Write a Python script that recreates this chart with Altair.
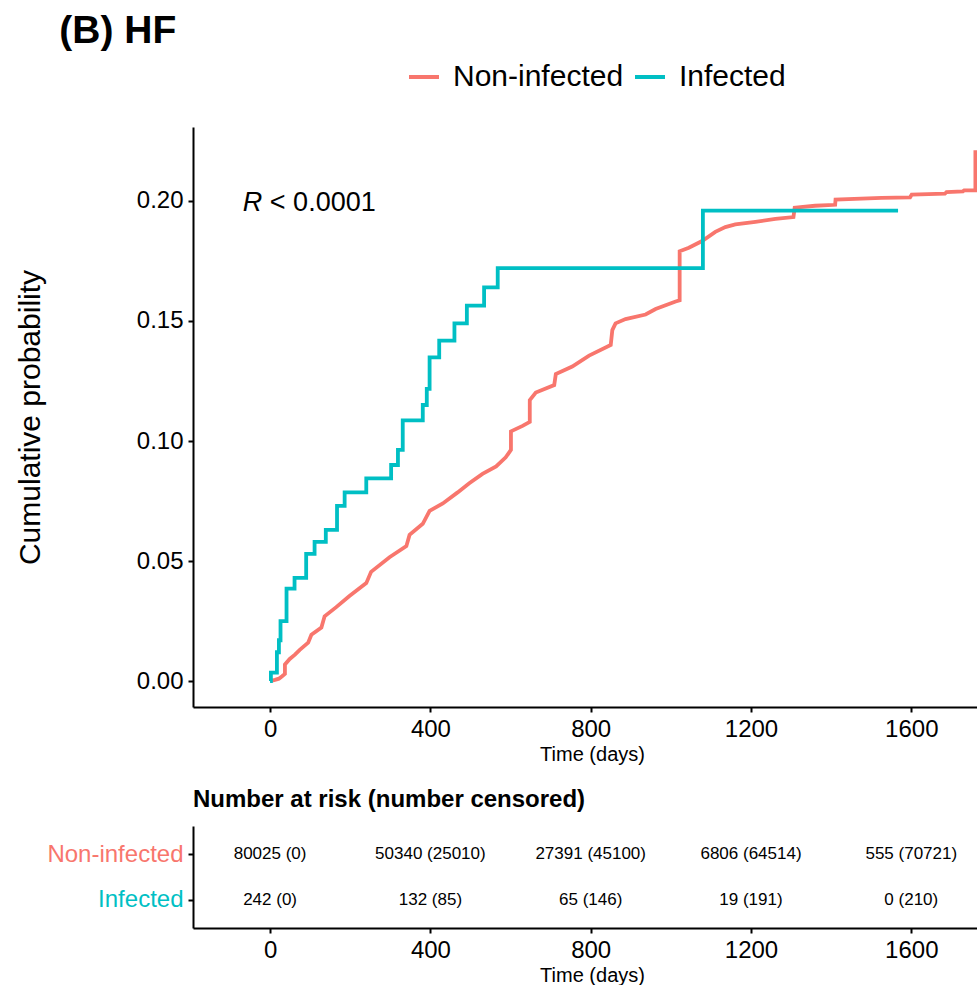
import altair as alt
import pandas as pd

# ---------------- data ----------------
groups = ["Non-infected", "Infected"]
palette = ["#F8766D", "#00BFC4"]

# Non-infected cumulative incidence (repeated day = vertical jump)
noninf_days = [0, 12, 22, 30, 37, 37, 49, 62, 74, 95, 103, 128, 136, 165, 198, 240, 252,
               298, 340, 348, 381, 398, 431, 468, 497, 530, 564, 588, 601, 601, 630, 648,
               648, 663, 709, 713, 754, 796, 850, 854, 862, 887, 937, 962, 1012, 1022,
               1022, 1045, 1078, 1111, 1136, 1161, 1211, 1261, 1306, 1309, 1360, 1410,
               1411, 1526, 1597, 1601, 1684, 1688, 1729, 1732, 1760, 1760, 1800]
noninf_prob = [0.0, 0.0005, 0.001, 0.002, 0.003, 0.0069, 0.0092, 0.011, 0.013, 0.016, 0.0193,
               0.0223, 0.027, 0.0308, 0.0354, 0.0408, 0.0455, 0.0516, 0.0562, 0.0609, 0.0655,
               0.0709, 0.074, 0.0786, 0.0824, 0.0863, 0.0894, 0.0932, 0.0963, 0.104, 0.1063,
               0.108, 0.117, 0.1202, 0.1233, 0.1279, 0.131, 0.1356, 0.140, 0.1462, 0.149,
               0.1508, 0.1527, 0.155, 0.1581, 0.1586, 0.179, 0.1805, 0.1833, 0.1871, 0.1891,
               0.1902, 0.1913, 0.1925, 0.1933, 0.1972, 0.198, 0.1984, 0.2006, 0.2013, 0.2015,
               0.2026, 0.203, 0.2037, 0.204, 0.2044, 0.2044, 0.2203, 0.2203]

# Infected cumulative incidence (step function)
inf_days = [0, 2, 17, 22, 26, 41, 61, 90, 111, 139, 167, 186, 240, 302, 319, 331, 381,
            391, 398, 422, 460, 491, 534, 568, 1080, 1567]
inf_prob = [0.0, 0.0035, 0.012, 0.017, 0.025, 0.0385, 0.043, 0.053, 0.058, 0.063, 0.073,
            0.0786, 0.0844, 0.090, 0.0963, 0.1086, 0.115, 0.1217, 0.1348, 0.1418, 0.149,
            0.1564, 0.164, 0.172, 0.196, 0.196]

risk_times = [0, 400, 800, 1200, 1600]
risk_noninf = ["80025 (0)", "50340 (25010)", "27391 (45100)", "6806 (64514)", "555 (70721)"]
risk_inf = ["242 (0)", "132 (85)", "65 (146)", "19 (191)", "0 (210)"]

y_ticks = [0.0, 0.05, 0.10, 0.15, 0.20]
pval_text = ["R", "< 0.0001"]

# ---------------- chart ----------------
FONT = "Liberation Sans"
X_DOM = [-192.4, 1764]
Y_DOM = [-0.0108, 0.2308]
PW = 784

red = pd.DataFrame({"day": noninf_days, "prob": noninf_prob, "group": groups[0]})
red["ord"] = range(len(red))
teal = pd.DataFrame({"day": inf_days, "prob": inf_prob, "group": groups[1]})
teal["ord"] = range(len(teal))

xscale = alt.Scale(domain=X_DOM, nice=False, zero=False)
yscale = alt.Scale(domain=Y_DOM, nice=False, zero=False)
cscale = alt.Scale(domain=groups, range=palette)


def x_axis():
    return alt.Axis(values=risk_times, format="d", title="Time (days)", titleX=399,
                    labelFontSize=24, titleFontSize=20, titlePadding=3, grid=False,
                    titleFontWeight="normal")


x_main = alt.X("day:Q", scale=xscale, axis=x_axis())
y_main = alt.Y("prob:Q", scale=yscale,
               axis=alt.Axis(values=y_ticks, format=".2f", title="Cumulative probability",
                             labelFontSize=24, titleFontSize=30, titlePadding=91,
                             grid=False, titleFontWeight="normal"))
color_enc = alt.Color("group:N", scale=cscale,
                      legend=alt.Legend(title=None, orient="none", direction="horizontal",
                                        legendX=214, legendY=-67, symbolType="stroke",
                                        symbolStrokeWidth=4, symbolSize=900,
                                        labelFontSize=30, labelFont=FONT, labelOffset=12,
                                        columnPadding=3, padding=0, labelColor="black",
                                        labelLimit=500))

red_line = alt.Chart(red).mark_line(strokeWidth=3.8, clip=True).encode(
    x=x_main, y=y_main, color=color_enc, order="ord:Q")
teal_line = alt.Chart(teal).mark_line(strokeWidth=3.8, clip=True,
                                      interpolate="step-after").encode(
    x=x_main, y=y_main, color=color_enc, order="ord:Q")

ann = pd.DataFrame({"day": [-68], "prob": [0.199], "a": [pval_text[0]], "b": [pval_text[1]]})
ann_r = alt.Chart(ann).mark_text(font=FONT, fontSize=27, fontStyle="italic", align="left",
                                 baseline="middle", color="black").encode(
    x=x_main, y=y_main, text="a:N")
ann_p = alt.Chart(ann).mark_text(font=FONT, fontSize=27, align="left", baseline="middle",
                                 color="black", dx=27).encode(
    x=x_main, y=y_main, text="b:N")

main = alt.layer(red_line, teal_line, ann_r, ann_p).properties(width=PW, height=580)

risk = pd.DataFrame({
    "day": risk_times * 2,
    "group": [groups[0]] * len(risk_times) + [groups[1]] * len(risk_times),
    "label": risk_noninf + risk_inf,
})
risk_chart = alt.Chart(risk).mark_text(font=FONT, fontSize=17, color="black").encode(
    x=alt.X("day:Q", scale=xscale, axis=x_axis()),
    y=alt.Y("group:N", scale=alt.Scale(type="point", domain=groups, padding=0.63),
            axis=alt.Axis(title=None, labelFontSize=24, grid=False,
                          labelColor={"expr": "datum.value === 'Infected' ? '#00BFC4' : '#F8766D'"})),
    text="label:N",
).properties(width=PW, height=102,
             title=alt.TitleParams("Number at risk (number censored)", anchor="start",
                                   frame="group", fontSize=24, fontWeight="bold",
                                   font=FONT, offset=14, color="black"))

chart = alt.vconcat(main, risk_chart, spacing=24).properties(
    title=alt.TitleParams("(B) HF", anchor="start", fontSize=39, fontWeight="bold",
                          font=FONT, offset=9, dx=44, color="black"),
    padding={"left": 15, "top": 12, "right": 0, "bottom": 0},
    background="white",
).configure_view(stroke=None).configure_axis(
    labelFont=FONT, titleFont=FONT, titleFontWeight="normal", labelColor="black",
    titleColor="black", domainColor="black", domainWidth=2, tickColor="black",
    tickWidth=2, tickSize=5, labelPadding=5, grid=False,
)

chart.save("out.html", embed_options={"renderer": "svg", "actions": False})
